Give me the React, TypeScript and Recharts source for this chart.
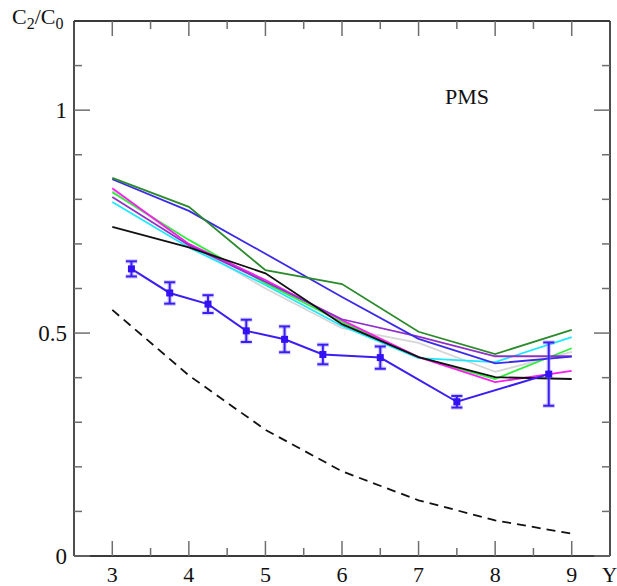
import React from "react";
import { LineChart, Line, XAxis, YAxis, ErrorBar } from "recharts";

// Rapidity grid for the model curves
const yGrid = [3, 4, 5, 6, 7, 8, 9];

// C2/C0 model curves (PMS scheme)
const darkGreenCurve = [0.848, 0.783, 0.641, 0.61, 0.503, 0.453, 0.507];
const blueCurve = [0.845, 0.774, 0.678, 0.581, 0.487, 0.432, 0.447];
const purpleCurve = [0.805, 0.697, 0.615, 0.531, 0.492, 0.448, 0.448];
const magentaCurve = [0.825, 0.7, 0.619, 0.529, 0.446, 0.39, 0.415];
const blackCurve = [0.738, 0.692, 0.634, 0.52, 0.446, 0.401, 0.397];
const greenCurve = [0.816, 0.709, 0.612, 0.525, 0.446, 0.397, 0.466];
const cyanCurve = [0.794, 0.692, 0.608, 0.516, 0.444, 0.435, 0.491];
const grayCurve = [0.82, 0.7, 0.6, 0.511, 0.478, 0.413, 0.458];
const dashedCurve = [0.552, 0.405, 0.283, 0.19, 0.125, 0.08, 0.05];

// Measured points with errors
const measX = [3.25, 3.75, 4.25, 4.75, 5.25, 5.75, 6.5, 7.5, 8.7];
const measY = [0.644, 0.59, 0.565, 0.505, 0.486, 0.452, 0.445, 0.346, 0.408];
const measErr = [0.017, 0.024, 0.02, 0.025, 0.029, 0.022, 0.025, 0.013, 0.071];

// Axis ticks
const xTicks = [3, 3.5, 4, 4.5, 5, 5.5, 6, 6.5, 7, 7.5, 8, 8.5, 9];
const yTicks = [0, 0.1, 0.2, 0.3, 0.4, 0.5, 0.6, 0.7, 0.8, 0.9, 1, 1.1];
const yLabelled = [0, 0.5, 1];

const FONT = "Liberation Serif";
const TICK_COLOR = "#6e6e6e";
const FRAME_COLOR = "#3a3a3a";

const toSeries = (ys: number[]) => yGrid.map((x, i) => ({ x, v: ys[i] }));
const measured = measX.map((x, i) => ({ x, v: measY[i], err: measErr[i] }));

const isMajorX = (v: number) => Number.isInteger(v);
const isMajorY = (v: number) => yLabelled.some((m) => Math.abs(m - v) < 1e-9);

const BottomTick = (props: any) => {
  const { x, y, payload } = props;
  const major = isMajorX(payload.value);
  return (
    <g>
      <line x1={x} y1={y} x2={x} y2={y - (major ? 15 : 8)} stroke={TICK_COLOR} strokeWidth={1.5} />
      {major && (
        <text x={x} y={y + 26} textAnchor="middle" fontSize={22} fontFamily={FONT} fill="#111">
          {payload.value}
        </text>
      )}
    </g>
  );
};

const TopTick = (props: any) => {
  const { x, y, payload } = props;
  const major = isMajorX(payload.value);
  return <line x1={x} y1={y} x2={x} y2={y + (major ? 15 : 8)} stroke={TICK_COLOR} strokeWidth={1.5} />;
};

const LeftTick = (props: any) => {
  const { x, y, payload } = props;
  const major = isMajorY(payload.value);
  return (
    <g>
      <line x1={x} y1={y} x2={x + (major ? 16 : 8)} y2={y} stroke={TICK_COLOR} strokeWidth={1.5} />
      {major && (
        <text x={x - 7} y={y} dy="0.35em" textAnchor="end" fontSize={23} fontFamily={FONT} fill="#111">
          {payload.value}
        </text>
      )}
    </g>
  );
};

const RightTick = (props: any) => {
  const { x, y, payload } = props;
  const major = isMajorY(payload.value);
  return <line x1={x} y1={y} x2={x - (major ? 16 : 8)} y2={y} stroke={TICK_COLOR} strokeWidth={1.5} />;
};

const SquareDot = (props: any) => {
  const { cx, cy, index } = props;
  if (cx == null || cy == null) return <g key={index} />;
  return <rect key={index} x={cx - 3.5} y={cy - 3.5} width={7} height={7} fill="#3410f5" />;
};

const curves = [
  { name: "gray", data: grayCurve, color: "#d6d6d6" },
  { name: "cyan", data: cyanCurve, color: "#1ee8ff" },
  { name: "green", data: greenCurve, color: "#2ef03a" },
  { name: "magenta", data: magentaCurve, color: "#ff1cf0" },
  { name: "purple", data: purpleCurve, color: "#9130c8" },
  { name: "black", data: blackCurve, color: "#111111" },
  { name: "blue", data: blueCurve, color: "#3b2ae8" },
  { name: "darkgreen", data: darkGreenCurve, color: "#2b8a2b" },
];

export default function App() {
  return (
    <div style={{ position: "absolute", left: 0, top: 0, background: "#fff", fontFamily: FONT }}>
      <LineChart width={617} height={586} margin={{ top: 20, right: 6, bottom: 0, left: 0 }}>
        <XAxis
          dataKey="x"
          type="number"
          domain={[2.5, 9.5]}
          allowDataOverflow
          ticks={xTicks}
          interval={0}
          height={30}
          tickSize={0}
          tickMargin={0}
          tick={<BottomTick />}
          axisLine={{ stroke: FRAME_COLOR, strokeWidth: 1.8 }}
        />
        <XAxis
          xAxisId="top"
          orientation="top"
          dataKey="x"
          type="number"
          domain={[2.5, 9.5]}
          allowDataOverflow
          ticks={xTicks}
          interval={0}
          height={1}
          tickSize={0}
          tickMargin={0}
          tick={<TopTick />}
          axisLine={{ stroke: FRAME_COLOR, strokeWidth: 1.8 }}
        />
        <YAxis
          type="number"
          domain={[0, 1.2]}
          allowDataOverflow
          ticks={yTicks}
          interval={0}
          width={74}
          tickSize={0}
          tickMargin={0}
          tick={<LeftTick />}
          axisLine={{ stroke: FRAME_COLOR, strokeWidth: 1.8 }}
        />
        <YAxis
          yAxisId="right"
          orientation="right"
          type="number"
          domain={[0, 1.2]}
          allowDataOverflow
          ticks={yTicks}
          interval={0}
          width={1}
          tickSize={0}
          tickMargin={0}
          tick={<RightTick />}
          axisLine={{ stroke: FRAME_COLOR, strokeWidth: 1.8 }}
        />

        {curves.map((c) => (
          <Line
            key={c.name}
            data={toSeries(c.data)}
            dataKey="v"
            type="linear"
            stroke={c.color}
            strokeWidth={1.8}
            dot={false}
            activeDot={false}
            isAnimationActive={false}
          />
        ))}

        <Line
          data={toSeries(dashedCurve)}
          dataKey="v"
          type="linear"
          stroke="#111"
          strokeWidth={1.8}
          strokeDasharray="9 6"
          dot={false}
          activeDot={false}
          isAnimationActive={false}
        />

        <Line
          data={measured}
          dataKey="v"
          type="linear"
          stroke="#3a1ef2"
          strokeWidth={2}
          dot={<SquareDot />}
          activeDot={false}
          isAnimationActive={false}
        >
          {/* soft halo under the error bars */}
          <ErrorBar dataKey="err" direction="y" width={6} stroke="#8c7dff" strokeOpacity={0.35} strokeWidth={4.5} />
          <ErrorBar dataKey="err" direction="y" width={5.5} stroke="#3a1ef2" strokeWidth={2} />
        </Line>

        <text x={12} y={24} fontSize={22} fontFamily={FONT} fill="#111">
          C
          <tspan fontSize={16} dy={5}>2</tspan>
          <tspan fontSize={22} dy={-5}>/C</tspan>
          <tspan fontSize={16} dy={5}>0</tspan>
        </text>
        <text x={445} y={104} fontSize={22} fontFamily={FONT} fill="#111">
          PMS
        </text>
        <text x={602} y={582} fontSize={21} fontFamily={FONT} fill="#111">
          Y
        </text>
      </LineChart>
    </div>
  );
}
